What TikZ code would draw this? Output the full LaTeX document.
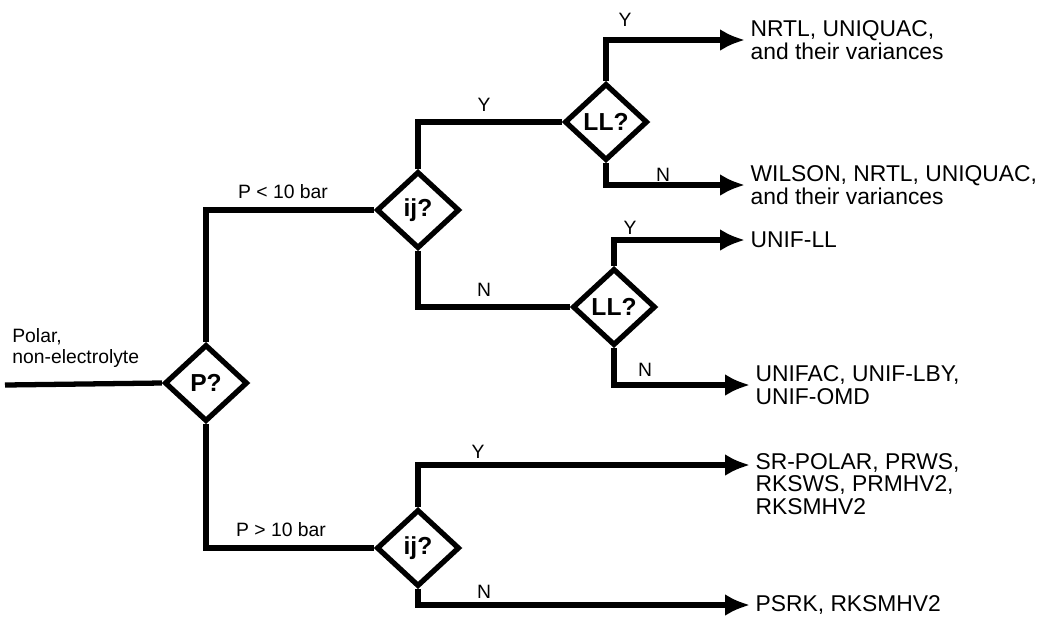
\documentclass[tikz,border=0pt]{standalone}
\usepackage{fontspec}
\setmainfont{Liberation Sans}
\usetikzlibrary{shapes.geometric,arrows.meta}

\begin{document}
\begin{tikzpicture}[x=0.02cm, y=-0.02cm,
	dia/.style = {draw, diamond, line width=3pt, minimum width=1.66cm, minimum height=1.54cm, inner sep=0pt, font=\fontsize{14}{14}\selectfont\bfseries},
	flow/.style = {line width=3pt},
	tip/.style = {flow, -{Latex[length=0.5cm, width=0.44cm]}},
	res/.style = {anchor=west, align=left, inner sep=0pt, xshift=3pt, font=\fontsize{13}{13}\selectfont},
	lbl/.style = {inner sep=0pt, font=\fontsize{11}{12}\selectfont}]
	\useasboundingbox (0,0) rectangle (1050,633);

	%decision diamonds
	\node [dia] (p) at (206,383) {P?};
	\node [dia] (ij1) at (418,210) {ij?};
	\node [dia] (ll1) at (606,122) {LL?};
	\node [dia] (ll2) at (614,307) {LL?};
	\node [dia] (ij2) at (418,548) {ij?};

	%feed
	\coordinate (in) at (5,385);
	\node [lbl, anchor=south west, align=left] (feed) at (12,368) {Polar,\\non-electrolyte};
	\draw [flow] (in) -- (p.west);

	%pressure branches
	\draw [flow] (p.north) |- (ij1.west);
	\node [lbl] (plow) at (283,192) {P < 10 bar};
	\draw [flow] (p.south) |- (ij2.west);
	\node [lbl] (phigh) at (281,530) {P > 10 bar};

	%low pressure
	\draw [flow] (ij1.north) |- (ll1.west);
	\node [lbl] (y1) at (484,105) {Y};
	\draw [flow] (ij1.south) |- (ll2.west);
	\node [lbl] (n1) at (484,290) {N};

	%results
	\coordinate (t1) at (745,40);
	\coordinate (t2) at (745,185);
	\coordinate (t3) at (745,240);
	\coordinate (t4) at (750,385);
	\coordinate (t5) at (750,465);
	\coordinate (t6) at (750,605);
	\node [res] (r1) at (t1) {NRTL, UNIQUAC,\\and their variances};
	\node [res] (r2) at (t2) {WILSON, NRTL, UNIQUAC,\\and their variances};
	\node [res] (r3) at (t3) {UNIF-LL};
	\node [res] (r4) at (t4) {UNIFAC, UNIF-LBY,\\UNIF-OMD};
	\node [res, anchor=north west, yshift=7pt] (r5) at (t5) {SR-POLAR, PRWS,\\RKSWS, PRMHV2,\\RKSMHV2};
	\node [res] (r6) at (t6) {PSRK, RKSMHV2};

	\draw [tip] (ll1.north) |- (t1);
	\node [lbl] (y2) at (625,20) {Y};
	\draw [tip] (ll1.south) |- (t2);
	\node [lbl] (n2) at (663,175) {N};
	\draw [tip] (ll2.north) |- (t3);
	\node [lbl] (y3) at (630,228) {Y};
	\draw [tip] (ll2.south) |- (t4);
	\node [lbl] (n3) at (645,370) {N};

	%high pressure
	\draw [tip] (ij2.north) |- (t5);
	\node [lbl] (y4) at (478,452) {Y};
	\draw [tip] (ij2.south) |- (t6);
	\node [lbl] (n4) at (484,592) {N};
\end{tikzpicture}
\end{document}
